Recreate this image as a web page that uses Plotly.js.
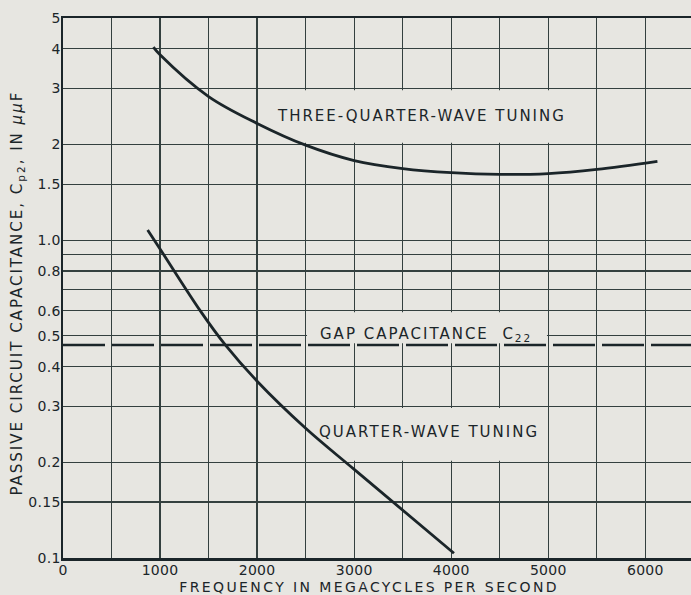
<!DOCTYPE html>
<html>
<head>
<meta charset="utf-8">
<script src="https://cdn.plot.ly/plotly-3.0.1.min.js"></script>
<style>
  html, body { margin: 0; padding: 0; background: #e7e6e1; }
  #chart { width: 691px; height: 595px; }
  .annotation-text { letter-spacing: 2px; }
  .xtick text, .ytick text { letter-spacing: 0.3px; }
</style>
</head>
<body>
<div id="chart"></div>
<script>
// ---- data ----
const freqThreeQuarter = [931, 1000, 1500, 2000, 2500, 3000, 3500, 4000, 4500, 5000, 5500, 6124];
const capThreeQuarter  = [4.05, 3.83, 2.83, 2.33, 1.99, 1.78, 1.68, 1.63, 1.61, 1.62, 1.67, 1.77];

const freqQuarter = [872, 1000, 1413, 1672, 2000, 2500, 3000, 4028];
const capQuarter  = [1.077, 0.938, 0.6, 0.468, 0.36, 0.256, 0.19, 0.1035];

const gapCapacitance = 0.468;

const xTickVals = [0, 500, 1000, 1500, 2000, 2500, 3000, 3500, 4000, 4500, 5000, 5500, 6000];
const xTickText = ['0', '', '1000', '', '2000', '', '3000', '', '4000', '', '5000', '', '6000'];
const yTickVals = [0.1, 0.15, 0.2, 0.3, 0.4, 0.5, 0.6, 0.7, 0.8, 0.9, 1, 1.5, 2, 3, 4, 5];
const yTickText = ['0.1', '0.15', '0.2', '0.3', '0.4', '0.5', '0.6', '', '0.8', '', '1.0', '1.5', '2', '3', '4', '5'];

const X_MAX = 6470;
const Y_MIN = 0.1, Y_MAX = 5;

// ---- styling ----
const ink = '#1b2529';
const grid = '#34403f';
const bg = '#e7e6e1';
const font = 'DejaVu Sans, sans-serif';

const traces = [
  { x: freqThreeQuarter, y: capThreeQuarter, mode: 'lines', line: { color: ink, width: 2.8, shape: 'spline', smoothing: 1 }, hoverinfo: 'skip' },
  { x: freqQuarter, y: capQuarter, mode: 'lines', line: { color: ink, width: 2.8, shape: 'spline', smoothing: 1 }, hoverinfo: 'skip' },
  { x: [0, X_MAX], y: [gapCapacitance, gapCapacitance], mode: 'lines', line: { color: ink, width: 2.5, dash: '42px,7px' }, hoverinfo: 'skip' }
];

// label boxes hide the grid behind each label (as on the original sheet)
const boxes = [
  { x0: 2000, x1: 5500, y0: 2, y1: 3 },
  { x0: 2500, x1: 5000, y0: 0.2, y1: 0.3 },
  { x0: 2500, x1: 5000, y0: gapCapacitance, y1: 0.6 }
].map(b => ({
  type: 'rect', layer: 'between', xref: 'x', yref: 'y',
  x0: b.x0 + 14, x1: b.x1 - 14, y0: b.y0 * 1.012, y1: b.y1 / 1.012,
  fillcolor: bg, line: { width: 0 }
}));

const labelFont = { family: font, size: 15, color: ink };
const labels = [
  { x: 3698, y: 2.46, text: 'THREE-QUARTER-WAVE TUNING' },
  { x: 3775, y: 0.249, text: 'QUARTER-WAVE TUNING' },
  { x: 3740, y: 0.505, text: 'GAP CAPACITANCE  C<sub>22</sub>' }
].map(a => ({
  x: a.x, y: Math.log10(a.y), xref: 'x', yref: 'y', text: a.text,
  showarrow: false, font: labelFont, xanchor: 'center', yanchor: 'middle'
}));

// axis titles placed as paper annotations for exact positioning
const axisTitles = [
  { text: 'FREQUENCY IN MEGACYCLES PER SECOND', x: 0.487, y: -0.0546, textangle: 0, size: 14, cls: 'xt' },
  { text: 'PASSIVE CIRCUIT CAPACITANCE, C<sub>p2</sub>, IN <i>μμ</i>F', x: -0.073, y: 0.49, textangle: -90, size: 15, cls: 'yt' }
].map(a => ({
  text: a.text, x: a.x, y: a.y, xref: 'paper', yref: 'paper', textangle: a.textangle,
  showarrow: false, xanchor: 'center', yanchor: 'middle',
  font: { family: font, size: a.size, color: ink }
}));

const layout = {
  width: 691, height: 595,
  margin: { l: 63, r: 0, t: 18, b: 37 },
  paper_bgcolor: bg, plot_bgcolor: bg,
  showlegend: false,
  font: { family: font, color: ink },
  xaxis: {
    range: [0, X_MAX], tickmode: 'array', tickvals: xTickVals, ticktext: xTickText,
    showgrid: true, gridcolor: grid, gridwidth: 1.3, zeroline: false,
    showline: true, mirror: true, linecolor: ink, linewidth: 2.5,
    ticks: '', ticklabelstandoff: -2, tickfont: { family: font, size: 14, color: ink },
    automargin: false
  },
  yaxis: {
    type: 'log', range: [Math.log10(Y_MIN), Math.log10(Y_MAX)],
    tickmode: 'array', tickvals: yTickVals, ticktext: yTickText,
    showgrid: true, gridcolor: grid, gridwidth: 1.3, zeroline: false,
    showline: true, linecolor: ink, linewidth: 2.5,
    ticks: '', ticklabelstandoff: -3, tickfont: { family: font, size: 14, color: ink },
    automargin: false
  },
  shapes: boxes,
  annotations: labels.concat(axisTitles)
};

Plotly.newPlot('chart', traces, layout, { staticPlot: true, displayModeBar: false }).then(() => {
  // slightly wider letter spacing on the frequency title, as in the original lettering
  document.querySelectorAll('.annotation-text').forEach(t => {
    if (t.textContent.indexOf('FREQUENCY') === 0) t.style.letterSpacing = '2.4px';
  });
});
</script>
</body>
</html>
